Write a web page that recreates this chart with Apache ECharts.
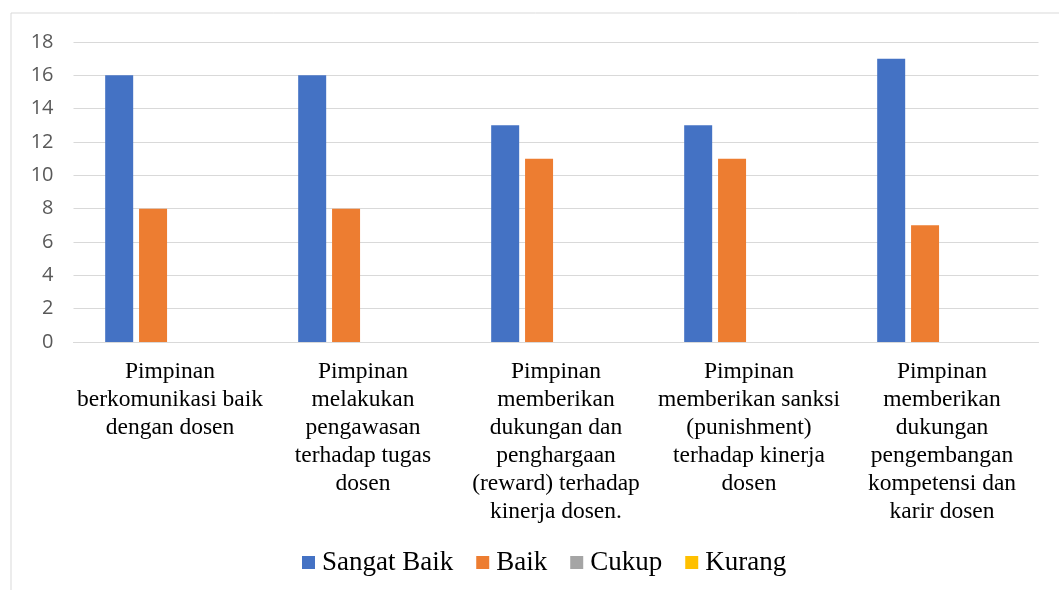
<!DOCTYPE html>
<html>
<head>
<meta charset="utf-8">
<script src="https://cdn.jsdelivr.net/npm/echarts@6/dist/echarts.min.js"></script>
<style>
  html, body { margin: 0; padding: 0; background: #fff; }
  #chart { width: 1059px; height: 590px; }
</style>
</head>
<body>
<div id="chart"></div>
<script>
// kategori pertanyaan (baris dipisah seperti gambar)
const categories = [
  'Pimpinan\nberkomunikasi baik\ndengan dosen',
  'Pimpinan\nmelakukan\npengawasan\nterhadap tugas\ndosen',
  'Pimpinan\nmemberikan\ndukungan dan\npenghargaan\n(reward) terhadap\nkinerja dosen.',
  'Pimpinan\nmemberikan sanksi\n(punishment)\nterhadap kinerja\ndosen',
  'Pimpinan\nmemberikan\ndukungan\npengembangan\nkompetensi dan\nkarir dosen'
]
const sangatBaik = [16, 16, 13, 13, 17]
const baik = [8, 8, 11, 11, 7]
const cukup = [0, 0, 0, 0, 0]
const kurang = [0, 0, 0, 0, 0]
const yTicks = [0, 2, 4, 6, 8, 10, 12, 14, 16, 18]

const chart = echarts.init(document.getElementById('chart'))

function bar(name, data) {
  return {
    name: name,
    type: 'bar',
    barWidth: 28,
    barGap: '21%',
    data: data
  }
}

chart.setOption({
  animation: false,
  color: ['#4472C4', '#ED7D31', '#A5A5A5', '#FFC000'],
  graphic: [{
    type: 'rect',
    shape: { x: 11, y: 13, width: 1100, height: 620 },
    style: { fill: 'none', stroke: '#d9d9d9', lineWidth: 1 }
  }],
  grid: {
    top: 42,
    left: 73.5,
    right: 20.5,
    bottom: 248
  },
  legend: {
    bottom: 14,
    left: 302,
    padding: 0,
    icon: 'rect',
    itemWidth: 13,
    itemHeight: 13,
    itemGap: 23,
    textStyle: {
      fontFamily: 'Liberation Serif',
      fontSize: 27,
      color: '#000',
      padding: [0, 0, 0, 2]
    },
    data: ['Sangat Baik', 'Baik', 'Cukup', 'Kurang']
  },
  xAxis: {
    type: 'category',
    data: categories,
    axisLine: { lineStyle: { color: '#d9d9d9', width: 1 } },
    axisTick: { show: false },
    axisLabel: {
      interval: 0,
      margin: 16,
      fontFamily: 'Liberation Serif',
      fontSize: 23.5,
      lineHeight: 28,
      color: '#000'
    }
  },
  yAxis: {
    type: 'value',
    min: yTicks[0],
    max: yTicks[yTicks.length - 1],
    interval: 2,
    axisLine: { show: false },
    axisTick: { show: false },
    axisLabel: {
      margin: 20,
      fontFamily: 'Open Sans',
      fontSize: 20,
      color: '#595959'
    },
    splitLine: { lineStyle: { color: '#d9d9d9', width: 1 } }
  },
  series: [
    bar('Sangat Baik', sangatBaik),
    bar('Baik', baik),
    bar('Cukup', cukup),
    bar('Kurang', kurang)
  ]
})
</script>
</body>
</html>
